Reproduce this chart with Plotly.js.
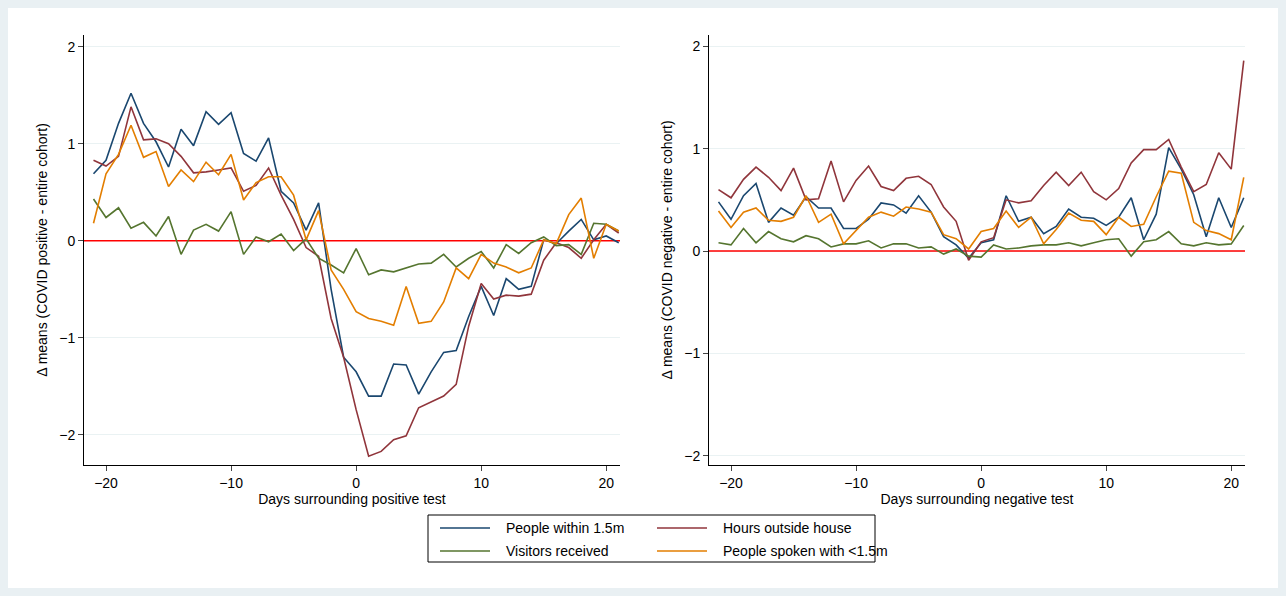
<!DOCTYPE html>
<html><head><meta charset="utf-8">
<script src="https://cdn.plot.ly/plotly-3.0.1.min.js"></script>
<style>
body{margin:0;background:#e9f0f3;}
#chart{width:1286px;height:596px;}
</style></head><body>
<div id="chart"></div>
<script>
// days -21..21
var days = []
for (var d = -21; d <= 21; d++) days.push(d)

// left panel: around positive test
var pos_within = [0.69,0.83,1.21,1.52,1.21,1.02,0.76,1.15,0.98,1.33,1.2,1.32,0.9,0.82,1.06,0.51,0.39,0.11,0.39,-0.5,-1.2,
  -1.35,-1.6,-1.6,-1.27,-1.28,-1.58,-1.35,-1.15,-1.13,-0.78,-0.47,-0.77,-0.39,-0.5,-0.47,0.01,-0.03,0.1,0.22,0.01,0.05,-0.02]
var pos_hours = [0.83,0.77,0.87,1.38,1.04,1.05,1.0,0.87,0.7,0.71,0.73,0.75,0.51,0.57,0.75,0.47,0.22,-0.07,-0.16,-0.8,-1.2,
  -1.74,-2.22,-2.17,-2.05,-2.01,-1.72,-1.66,-1.6,-1.48,-0.88,-0.44,-0.6,-0.56,-0.57,-0.55,-0.2,-0.02,-0.07,-0.18,0.01,0.17,0.08]
var pos_visitors = [0.43,0.24,0.34,0.13,0.19,0.05,0.25,-0.14,0.11,0.17,0.1,0.3,-0.14,0.04,-0.01,0.07,-0.1,0.02,-0.18,-0.25,-0.33,
  -0.08,-0.35,-0.3,-0.32,-0.28,-0.24,-0.23,-0.14,-0.27,-0.18,-0.11,-0.28,-0.04,-0.13,-0.02,0.04,-0.05,-0.04,-0.14,0.18,0.17,0.1]
var pos_spoken = [0.18,0.69,0.89,1.19,0.86,0.92,0.56,0.73,0.61,0.81,0.68,0.89,0.42,0.6,0.66,0.66,0.47,0.01,0.31,-0.3,-0.5,
  -0.73,-0.8,-0.83,-0.87,-0.47,-0.85,-0.83,-0.63,-0.28,-0.39,-0.14,-0.23,-0.27,-0.33,-0.28,0.01,-0.03,0.27,0.44,-0.18,0.17,0.1]

// right panel: around negative test
var neg_within = [0.48,0.31,0.54,0.66,0.28,0.42,0.35,0.53,0.42,0.42,0.22,0.22,0.31,0.47,0.45,0.37,0.54,0.38,0.14,0.06,-0.07,
  0.08,0.11,0.54,0.29,0.33,0.17,0.24,0.41,0.33,0.32,0.25,0.33,0.52,0.11,0.36,1.01,0.8,0.55,0.14,0.52,0.23,0.52]
var neg_hours = [0.6,0.52,0.7,0.82,0.72,0.59,0.81,0.5,0.51,0.88,0.48,0.69,0.83,0.63,0.59,0.71,0.73,0.65,0.43,0.29,-0.09,
  0.09,0.13,0.5,0.47,0.49,0.64,0.77,0.64,0.77,0.58,0.5,0.61,0.86,0.99,0.99,1.09,0.82,0.58,0.65,0.96,0.8,1.86]
var neg_visitors = [0.08,0.06,0.22,0.08,0.19,0.12,0.09,0.15,0.12,0.04,0.07,0.07,0.1,0.03,0.07,0.07,0.03,0.04,-0.03,0.02,-0.05,
  -0.06,0.06,0.02,0.03,0.05,0.06,0.06,0.08,0.05,0.08,0.11,0.12,-0.05,0.09,0.11,0.19,0.07,0.05,0.08,0.06,0.07,0.25]
var neg_spoken = [0.39,0.23,0.38,0.42,0.3,0.29,0.33,0.54,0.28,0.36,0.07,0.2,0.33,0.38,0.34,0.43,0.41,0.38,0.16,0.12,0.02,
  0.19,0.22,0.39,0.23,0.33,0.07,0.21,0.37,0.3,0.29,0.16,0.33,0.24,0.26,0.53,0.78,0.76,0.28,0.2,0.17,0.11,0.72]

var series_names = ["People within 1.5m","Hours outside house","Visitors received","People spoken with <1.5m"]
var series_colors = ["#1a476f","#90353b","#55752f","#e37e00"]

var left = [pos_within, pos_hours, pos_visitors, pos_spoken]
var right = [neg_within, neg_hours, neg_visitors, neg_spoken]

var data = []
for (i = 0; i < 4; i++) {
    data.push({x: days, y: left[i], mode: 'lines', line: {color: series_colors[i], width: 1.6}, xaxis: 'x', yaxis: 'y', showlegend: false})
    data.push({x: days, y: right[i], mode: 'lines', line: {color: series_colors[i], width: 1.6}, xaxis: 'x2', yaxis: 'y2', showlegend: false})
}

var W = 1286, H = 596
var font = {family: 'Liberation Sans, Arial, sans-serif', size: 14, color: '#000'}
function xax(dom, title, anchor) {
    return {domain: dom, anchor: anchor, range: [-21.76, 21.1], tickvals: [-20,-10,0,10,20], ticks: 'outside', ticklen: 5,
        showgrid: false, zeroline: false, showline: true, linecolor: '#000', linewidth: 1,
        tickfont: font, title: {text: title, font: font, standoff: 4}}
}
function yax(range, anchor, title) {
    return {domain: [1-465/H, 1-35/H], anchor: anchor, range: range, tickvals: [-2,-1,0,1,2], ticks: 'outside', ticklen: 5,
        showgrid: true, gridcolor: '#eaf2f3', zeroline: false, showline: true, linecolor: '#000', linewidth: 1,
        tickfont: font, title: {text: title, font: font, standoff: 8}}
}

var shapes = [
    {type: 'rect', xref: 'paper', yref: 'paper', x0: 8/W, x1: 1278/W, y0: 1-588/H, y1: 1-8/H, line: {width: 0}, fillcolor: 'white', layer: 'below'},
    {type: 'line', xref: 'x', yref: 'y', x0: -21.76, x1: 21.1, y0: 0, y1: 0, line: {color: '#ff0000', width: 1.6}, layer: 'between'},
    {type: 'line', xref: 'x2', yref: 'y2', x0: -21.76, x1: 21.1, y0: 0, y1: 0, line: {color: '#ff0000', width: 1.6}, layer: 'between'},
    {type: 'rect', xref: 'paper', yref: 'paper', x0: 428/W, x1: 875/W, y0: 1-562/H, y1: 1-515/H, line: {color: '#000', width: 1}}
]
var annotations = []
var lx = [440, 657], ly = [528, 551]
for (i = 0; i < 4; i++) {
    var c = i % 2, r = Math.floor(i / 2)
    shapes.push({type: 'line', xref: 'paper', yref: 'paper', x0: lx[c]/W, x1: (lx[c]+50)/W, y0: 1-ly[r]/H, y1: 1-ly[r]/H,
        line: {color: series_colors[i], width: 1.6}})
    annotations.push({xref: 'paper', yref: 'paper', x: (lx[c]+64)/W, y: 1-ly[r]/H, xanchor: 'left', yanchor: 'middle',
        text: series_names[i], showarrow: false, font: font})
}

var layout = {
    width: W, height: H,
    margin: {l: 0, r: 0, t: 0, b: 0},
    paper_bgcolor: '#e9f0f3', plot_bgcolor: 'white',
    xaxis: xax([84/W, 620/W], 'Days surrounding positive test', 'y'),
    yaxis: yax([-2.31, 2.12], 'x', 'Δ means (COVID positive - entire cohort)'),
    xaxis2: xax([709/W, 1245/W], 'Days surrounding negative test', 'y2'),
    yaxis2: yax([-2.09, 2.11], 'x2', 'Δ means (COVID negative - entire cohort)'),
    shapes: shapes, annotations: annotations
}

Plotly.newPlot('chart', data, layout, {displayModeBar: false, staticPlot: true})
</script></body></html>
